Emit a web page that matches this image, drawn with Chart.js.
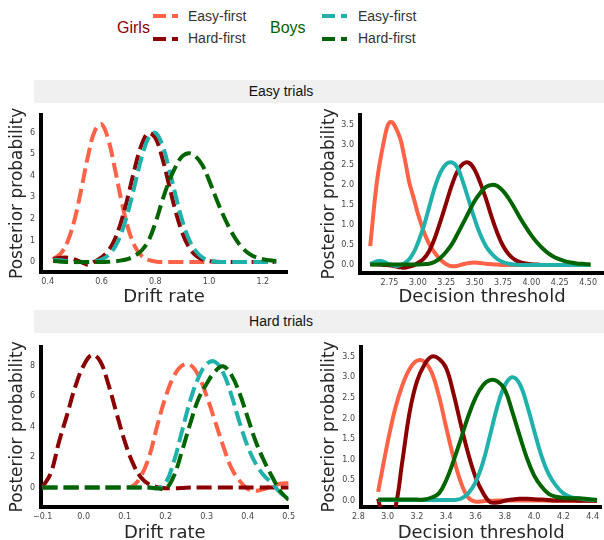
<!DOCTYPE html>
<html>
<head>
<meta charset="utf-8">
<script src="https://cdn.jsdelivr.net/npm/chart.js@4.4.0/dist/chart.umd.min.js"></script>
<style>
  body { margin:0; background:#fff; width:604px; height:540px; overflow:hidden; position:relative; font-family:'Liberation Sans', Arial, sans-serif; }
  canvas { position:absolute; }
  .band { position:absolute; left:34px; width:570px; height:23px; background:#f0f0f0; }
  .bandText { position:absolute; left:181px; width:200px; text-align:center; font-size:14px; line-height:16px; color:#111; }
  .lg { position:absolute; font-size:14px; line-height:16px; color:#333; white-space:nowrap; }
  .grp { position:absolute; font-size:16px; line-height:18px; white-space:nowrap; }
  .dash { position:absolute; height:4px; }
</style>
</head>
<body>

<!-- legend -->
<div class="grp" style="left:117px; top:19px; color:#8b0000">Girls</div>
<div class="dash" style="left:153px; top:14px; width:13px; background:#ff6347"></div>
<div class="dash" style="left:172px; top:14px; width:6px; background:#ff6347"></div>
<div class="lg" style="left:188px; top:8px">Easy-first</div>
<div class="dash" style="left:153px; top:37px; width:13px; background:#8b0000"></div>
<div class="dash" style="left:172px; top:37px; width:6px; background:#8b0000"></div>
<div class="lg" style="left:188px; top:30px">Hard-first</div>

<div class="grp" style="left:270px; top:19px; color:#006400">Boys</div>
<div class="dash" style="left:322px; top:14px; width:13px; background:#20b2aa"></div>
<div class="dash" style="left:341px; top:14px; width:6px; background:#20b2aa"></div>
<div class="lg" style="left:358px; top:8px">Easy-first</div>
<div class="dash" style="left:322px; top:37px; width:13px; background:#006400"></div>
<div class="dash" style="left:341px; top:37px; width:6px; background:#006400"></div>
<div class="lg" style="left:358px; top:30px">Hard-first</div>

<div class="band" style="top:80px"></div>
<div class="bandText" style="top:83px">Easy trials</div>
<div class="band" style="top:310px"></div>
<div class="bandText" style="top:313px">Hard trials</div>

<canvas id="c1" width="300" height="204" style="left:0; top:104px"></canvas>
<canvas id="c2" width="304" height="204" style="left:300px; top:104px"></canvas>
<canvas id="c3" width="300" height="210" style="left:0; top:336px"></canvas>
<canvas id="c4" width="304" height="210" style="left:300px; top:336px"></canvas>

<script>
// ---- Easy trials, drift rate ----
const easyDriftX = [0.42, 0.45, 0.475, 0.5, 0.525, 0.55, 0.575, 0.6, 0.625, 0.65, 0.675, 0.7, 0.725, 0.75, 0.775, 0.8, 0.825, 0.85, 0.875, 0.9, 0.925, 0.95, 0.975, 1.0, 1.025, 1.05, 1.075, 1.1, 1.125, 1.15, 1.175, 1.2, 1.225, 1.25]
const easyDriftGirlsEasy = [0.12, 0.42, 0.99, 1.98, 3.39, 4.92, 6.08, 6.4, 5.69, 4.32, 2.79, 1.53, 0.71, 0.28, 0.1, 0.03, 0, 0, 0, 0, 0, 0, 0, 0, null, null, null, null, null, null, null, null, null, null]
const easyDriftGirlsHard = [0.15, 0.2, 0.2, 0.12, 0.0, -0.12, 0.03, 0.22, 0.52, 1.07, 1.95, 3.12, 4.41, 5.47, 5.98, 5.76, 4.88, 3.64, 2.39, 1.38, 0.7, 0.31, 0.12, 0.04, 0.01, 0, 0, 0, 0, 0, 0, 0, 0, 0]
const easyDriftBoysEasy = [0.1, 0.08, 0.03, 0, 0, 0, 0.04, 0.12, 0.31, 0.7, 1.38, 2.39, 3.64, 4.88, 5.76, 6.0, 5.47, 4.41, 3.12, 1.95, 1.07, 0.52, 0.22, 0.08, 0.02, 0, 0, 0, 0, 0, 0, 0, 0, 0]
const easyDriftBoysHard = [0.05, 0.02, 0, 0, 0, 0, 0, 0, 0.01, 0.03, 0.08, 0.15, 0.3, 0.55, 1.0, 1.8, 2.8, 3.7, 4.4, 4.9, 5.05, 4.9, 4.5, 3.8, 3.0, 2.25, 1.6, 1.05, 0.65, 0.38, 0.22, 0.13, 0.08, 0.05]
const easyDriftXTicks = [0.4, 0.6, 0.8, 1.0, 1.2]
const easyDriftXLabels = ['0.4', '0.6', '0.8', '1.0', '1.2']
const easyDriftYTicks = [0, 1, 2, 3, 4, 5, 6]
const easyDriftYLabels = ['0', '1', '2', '3', '4', '5', '6']

// ---- Easy trials, decision threshold ----
const easyThreshX = [2.58, 2.6, 2.625, 2.65, 2.675, 2.7, 2.725, 2.75, 2.775, 2.8, 2.825, 2.85, 2.875, 2.9, 2.925, 2.95, 2.975, 3.0, 3.05, 3.1, 3.15, 3.2, 3.25, 3.3, 3.35, 3.4, 3.45, 3.5, 3.55, 3.6, 3.65, 3.7, 3.75, 3.8, 3.85, 3.9, 3.95, 4.0, 4.05, 4.1, 4.15, 4.2, 4.25, 4.3, 4.35, 4.4, 4.45, 4.5, 4.52]
const easyThreshGirlsEasy = [0.47, 1.05, 1.75, 2.3, 2.72, 3.08, 3.4, 3.56, 3.56, 3.45, 3.3, 3.1, 2.78, 2.42, 2.05, 1.8, 1.55, 1.28, 0.85, 0.52, 0.3, 0.13, 0.02, -0.03, -0.02, 0.02, 0.05, 0.06, 0.05, 0.03, 0.02, 0.01, 0, 0, 0, 0, 0, 0, 0, 0, 0, 0, 0, 0, 0, 0, 0, 0, 0]
const easyThreshGirlsHard = [0.02, 0.02, 0.02, 0.01, 0.01, 0.0, 0.0, -0.01, -0.02, -0.03, -0.05, -0.06, -0.07, -0.06, -0.04, -0.02, 0.01, 0.05, 0.15, 0.35, 0.68, 1.1, 1.55, 2.0, 2.35, 2.53, 2.55, 2.38, 2.05, 1.65, 1.2, 0.8, 0.48, 0.27, 0.14, 0.07, 0.04, 0.02, 0.01, 0, 0, 0, 0, 0, 0, 0, 0, 0, 0]
const easyThreshBoysEasy = [0.02, 0.05, 0.08, 0.1, 0.1, 0.08, 0.05, 0.02, 0.0, -0.02, -0.02, 0.0, 0.03, 0.08, 0.15, 0.25, 0.38, 0.55, 0.95, 1.45, 1.95, 2.32, 2.52, 2.56, 2.42, 2.05, 1.6, 1.15, 0.76, 0.47, 0.28, 0.15, 0.07, 0.03, 0.01, 0, 0, 0, 0, 0, 0, 0, 0, 0, 0, 0, 0, 0, 0]
const easyThreshBoysHard = [0.01, 0.01, 0.01, 0.01, 0.01, 0.01, 0.01, 0.01, 0.01, 0.01, 0.01, 0.01, 0.01, 0.01, 0.01, 0.01, 0.01, 0.01, 0.02, 0.03, 0.08, 0.18, 0.33, 0.52, 0.78, 1.05, 1.33, 1.6, 1.8, 1.95, 2.0, 1.97, 1.85, 1.66, 1.43, 1.18, 0.95, 0.74, 0.56, 0.41, 0.29, 0.2, 0.14, 0.09, 0.06, 0.04, 0.03, 0.02, 0.02]
const easyThreshXTicks = [2.75, 3.0, 3.25, 3.5, 3.75, 4.0, 4.25, 4.5]
const easyThreshXLabels = ['2.75', '3.00', '3.25', '3.50', '3.75', '4.00', '4.25', '4.50']
const threshYTicks = [0, 0.5, 1, 1.5, 2, 2.5, 3, 3.5]
const threshYLabels = ['0.0', '0.5', '1.0', '1.5', '2.0', '2.5', '3.0', '3.5']

// ---- Hard trials, drift rate ----
const hardDriftX = [-0.1, -0.08, -0.06, -0.04, -0.02, 0, 0.02, 0.04, 0.06, 0.08, 0.1, 0.12, 0.14, 0.16, 0.18, 0.2, 0.22, 0.24, 0.26, 0.28, 0.3, 0.32, 0.34, 0.36, 0.38, 0.4, 0.42, 0.44, 0.46, 0.48, 0.5]
const hardDriftGirlsEasy = [0, 0, 0, 0, 0, 0, 0, 0, 0, 0, 0, 0.1, 0.75, 2.05, 4.1, 5.95, 7.3, 8.0, 8.05, 7.35, 6.0, 4.4, 2.75, 1.3, 0.45, -0.08, -0.22, -0.1, 0.1, 0.24, 0.3]
const hardDriftGirlsHard = [0.05, 0.95, 3.0, 4.8, 6.65, 8.0, 8.7, 8.3, 6.8, 4.9, 3.05, 1.6, 0.65, 0.2, 0.02, -0.05, -0.05, -0.03, 0, 0, 0, 0, 0, 0, 0, 0, 0, 0, 0, 0, 0]
const hardDriftBoysEasy = [0, 0, 0, 0, 0, 0, 0, 0, 0, 0, 0, 0, 0, 0, -0.05, 0.3, 1.7, 3.7, 5.7, 7.2, 8.1, 8.25, 7.55, 6.1, 4.3, 2.7, 1.55, 0.78, 0.26, -0.35, -0.75]
const hardDriftBoysHard = [0, 0, 0, 0, 0, 0, 0, 0, 0, 0, 0, 0, 0, 0, -0.05, -0.08, 0.75, 2.4, 4.2, 5.8, 6.8, 7.6, 7.95, 7.4, 6.2, 4.6, 3.0, 1.75, 0.69, -0.25, -0.82]
const hardDriftXTicks = [-0.1, 0, 0.1, 0.2, 0.3, 0.4, 0.5]
const hardDriftXLabels = ['\u22120.1', '0.0', '0.1', '0.2', '0.3', '0.4', '0.5']
const hardDriftYTicks = [0, 2, 4, 6, 8]
const hardDriftYLabels = ['0', '2', '4', '6', '8']

// ---- Hard trials, decision threshold ----
const hardThreshX = [2.935, 2.95, 3.0, 3.05, 3.1, 3.15, 3.2, 3.25, 3.3, 3.35, 3.4, 3.45, 3.5, 3.55, 3.6, 3.65, 3.7, 3.75, 3.8, 3.85, 3.9, 3.95, 4.0, 4.05, 4.1, 4.15, 4.2, 4.25, 4.3, 4.35, 4.4, 4.43]
const hardThreshGirlsEasy = [0.22, 0.5, 1.42, 2.22, 2.8, 3.2, 3.4, 3.38, 3.12, 2.55, 1.78, 1.05, 0.45, 0.08, -0.02, -0.01, 0, 0.01, 0.01, 0.01, 0.01, 0.01, 0.01, 0.01, 0, 0, 0, 0, 0, 0, 0, 0]
const hardThreshGirlsHard = [0.05, -0.15, -0.55, -0.2, 0.95, 2.15, 2.9, 3.3, 3.5, 3.45, 3.22, 2.6, 1.85, 1.15, 0.58, 0.2, -0.03, -0.04, 0, 0.03, 0.05, 0.05, 0.04, 0.03, 0.02, 0.01, 0.01, 0.01, 0, 0, 0, 0]
const hardThreshBoysEasy = [0.02, 0.02, 0.02, 0.02, 0.02, 0.02, 0.02, 0.02, 0.02, 0.02, 0.02, 0.02, 0.05, 0.18, 0.45, 0.92, 1.6, 2.3, 2.8, 3.0, 2.85, 2.35, 1.71, 1.1, 0.65, 0.37, 0.18, 0.09, 0.06, 0.04, 0.02, 0.02]
const hardThreshBoysHard = [0.03, 0.03, 0.03, 0.03, 0.03, 0.03, 0.03, 0.03, 0.08, 0.18, 0.5, 0.97, 1.5, 2.05, 2.5, 2.8, 2.93, 2.9, 2.7, 2.18, 1.6, 1.05, 0.62, 0.35, 0.17, 0.1, 0.07, 0.06, 0.06, 0.05, 0.03, 0.02]
const hardThreshXTicks = [2.8, 3.0, 3.2, 3.4, 3.6, 3.8, 4.0, 4.2, 4.4]
const hardThreshXLabels = ['2.8', '3.0', '3.2', '3.4', '3.6', '3.8', '4.0', '4.2', '4.4']

const colors = ['#ff6347', '#8b0000', '#20b2aa', '#006400']
const tickFont = { family: 'DejaVu Sans', size: 8 }

function axis(min, max, tickVals, tickLabels, title, size, isX, titlePad) {
    return {
        type: 'linear',
        min: min,
        max: max,
        afterBuildTicks: s => { s.ticks = tickVals.map(v => ({ value: v })) },
        afterFit: s => { if (isX) { s.height = size } else { s.width = size } },
        grid: { display: false, drawTicks: false },
        border: { display: true, color: '#000', width: 4 },
        ticks: {
            callback: (v, i) => tickLabels[i],
            font: tickFont,
            color: '#444',
            padding: isX ? 5 : 6,
            maxRotation: 0,
            autoSkip: false
        },
        title: {
            display: true,
            text: title,
            color: '#262626',
            font: { family: 'DejaVu Sans', size: isX ? 18 : 17, lineHeight: 1 },
            padding: titlePad
        }
    }
}

function makePanel(id, xs, series, dashed, xScale, yScale, pad) {
    const datasets = series.map((ys, k) => ({
        data: xs.map((x, i) => ({ x: x, y: ys[i] })),
        borderColor: colors[k],
        borderWidth: 4,
        borderDash: dashed ? [15, 6] : [],
        pointRadius: 0,
        tension: 0.4,
        fill: false,
        order: 3 - k
    }))
    new Chart(document.getElementById(id), {
        type: 'line',
        data: { datasets: datasets },
        options: {
            responsive: false,
            animation: false,
            layout: { padding: pad },
            plugins: { legend: { display: false }, tooltip: { enabled: false } },
            scales: { x: xScale, y: yScale }
        }
    })
}

makePanel('c1', easyDriftX,
    [easyDriftGirlsEasy, easyDriftGirlsHard, easyDriftBoysEasy, easyDriftBoysHard], true,
    axis(0.375, 1.29, easyDriftXTicks, easyDriftXLabels, 'Drift rate', 36, true, { top: 0, bottom: 2 }),
    axis(-0.46, 6.83, easyDriftYTicks, easyDriftYLabels, 'Posterior probability', 41, false, { top: 9, bottom: 0 }),
    { left: 0, top: 6, right: 13, bottom: 0 })

makePanel('c2', easyThreshX,
    [easyThreshGirlsEasy, easyThreshGirlsHard, easyThreshBoysEasy, easyThreshBoysHard], false,
    axis(2.49, 4.64, easyThreshXTicks, easyThreshXLabels, 'Decision threshold', 35, true, { top: 0, bottom: 2 }),
    axis(-0.2, 3.75, threshYTicks, threshYLabels, 'Posterior probability', 60, false, { top: 21, bottom: 0 }),
    { left: 0, top: 9, right: 0, bottom: 0 })

makePanel('c3', hardDriftX,
    [hardDriftGirlsEasy, hardDriftGirlsHard, hardDriftBoysEasy, hardDriftBoysHard], true,
    axis(-0.104, 0.5, hardDriftXTicks, hardDriftXLabels, 'Drift rate', 39, true, { top: 0, bottom: 4 }),
    axis(-1.28, 9.23, hardDriftYTicks, hardDriftYLabels, 'Posterior probability', 41, false, { top: 9.5, bottom: 0 }),
    { left: 0, top: 9, right: 10, bottom: 0 })

makePanel('c4', hardThreshX,
    [hardThreshGirlsEasy, hardThreshGirlsHard, hardThreshBoysEasy, hardThreshBoysHard], false,
    axis(2.818, 4.46, hardThreshXTicks, hardThreshXLabels, 'Decision threshold', 39, true, { top: 0, bottom: 4 }),
    axis(-0.15, 3.74, threshYTicks, threshYLabels, 'Posterior probability', 61, false, { top: 21.5, bottom: 0 }),
    { left: 0, top: 10, right: 0, bottom: 0 })
</script>
</body>
</html>
